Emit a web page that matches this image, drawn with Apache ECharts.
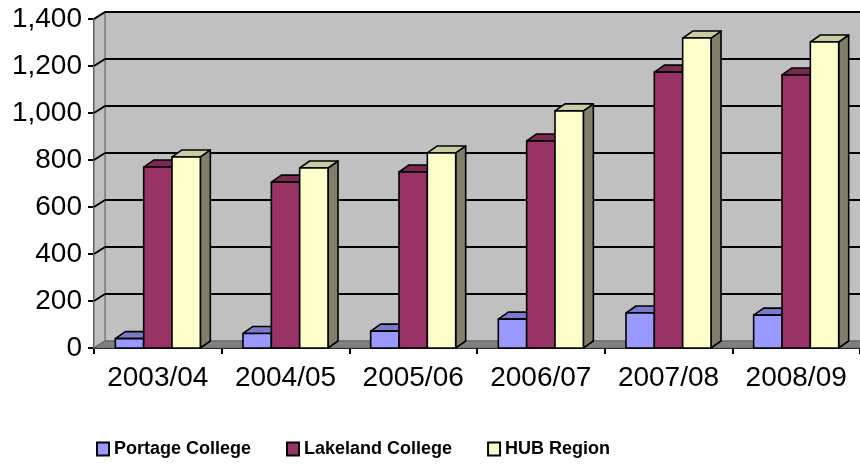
<!DOCTYPE html>
<html>
<head>
<meta charset="utf-8">
<script src="https://cdn.jsdelivr.net/npm/echarts@6/dist/echarts.min.js"></script>
<style>
  html, body { margin: 0; padding: 0; background: #fff; }
  #chart { width: 860px; height: 464px; }
</style>
</head>
<body>
<div id="chart"></div>
<script>
// Excel-style 3D column chart, drawn with custom series

const categories = ['2003/04', '2004/05', '2005/06', '2006/07', '2007/08', '2008/09'];
const portage = [40, 62, 72, 123, 149, 140];
const lakeland = [770, 706, 749, 881, 1174, 1162];
const hub = [813, 766, 830, 1009, 1319, 1302];
const yTicks = [0, 200, 400, 600, 800, 1000, 1200, 1400];

const seriesNames = ['Portage College', 'Lakeland College', 'HUB Region'];
const seriesValues = [portage, lakeland, hub];
const colors = ['#9999ff', '#993366', '#ffffcc'];
const topColors = ['#7a7acc', '#7a2952', '#cccca3'];
const sideColors = ['#4d4d80', '#4d1a33', '#808066'];

const WALL_DX = 11, WALL_DY = 7;   // depth of the walls
const BAR_DX = 10, BAR_DY = 7;     // depth of each bar
const FONT = 'Liberation Sans, Arial, sans-serif';

const chart = echarts.init(document.getElementById('chart'));

// back wall, side wall and floor
function renderWalls(params, api) {
  const cs = params.coordSys;
  const y0 = api.coord([0, 0])[1];
  const yTop = api.coord([0, 1400])[1];
  const xL = cs.x, xR = cs.x + cs.width + 20;
  return {
    type: 'group',
    children: [
      { type: 'rect', shape: { x: xL + WALL_DX, y: yTop - WALL_DY, width: xR - xL, height: y0 - yTop },
        style: { fill: '#c0c0c0', stroke: '#808080', lineWidth: 1.5 } },
      { type: 'polygon', shape: { points: [[xL, yTop], [xL + WALL_DX, yTop - WALL_DY], [xL + WALL_DX, y0 - WALL_DY], [xL, y0]] },
        style: { fill: '#c0c0c0', stroke: '#808080', lineWidth: 1.5 } },
      { type: 'polygon', shape: { points: [[xL, y0], [xL + WALL_DX, y0 - WALL_DY], [xR, y0 - WALL_DY], [xR, y0]] },
        style: { fill: '#808080', stroke: '#606060', lineWidth: 1 } }
    ]
  };
}

// gridlines on the back wall, with the diagonal on the side wall
function renderGrid(params, api) {
  const cs = params.coordSys;
  const v = api.value(1);
  if (v === 0) return null;
  const y = api.coord([0, v])[1];
  const xL = cs.x, xR = cs.x + cs.width + 20;
  const st = { stroke: '#000', lineWidth: 2 };
  return {
    type: 'group',
    children: [
      { type: 'line', shape: { x1: xL, y1: y, x2: xL + WALL_DX, y2: y - WALL_DY }, style: st },
      { type: 'line', shape: { x1: xL + WALL_DX, y1: y - WALL_DY, x2: xR, y2: y - WALL_DY }, style: st }
    ]
  };
}

function barRenderer(idx) {
  return function (params, api) {
    const top = api.coord([api.value(0), api.value(1)]);
    const base = api.coord([api.value(0), 0]);
    const band = api.size([1, 0])[0];
    const bw = band * 0.222;
    const x = top[0] - 1.5 * bw + idx * bw;
    const yt = top[1], yb = base[1];
    const line = { stroke: '#000', lineWidth: 1.6, lineJoin: 'round' };
    return {
      type: 'group',
      children: [
        { type: 'polygon', shape: { points: [[x + bw, yt], [x + bw + BAR_DX, yt - BAR_DY], [x + bw + BAR_DX, yb - BAR_DY], [x + bw, yb]] },
          style: Object.assign({ fill: sideColors[idx] }, line) },
        { type: 'polygon', shape: { points: [[x, yt], [x + BAR_DX, yt - BAR_DY], [x + bw + BAR_DX, yt - BAR_DY], [x + bw, yt]] },
          style: Object.assign({ fill: topColors[idx] }, line) },
        { type: 'rect', shape: { x: x, y: yt, width: bw, height: yb - yt },
          style: Object.assign({ fill: colors[idx] }, line) }
      ]
    };
  };
}

const series = [
  { type: 'custom', name: 'walls', z: 1, silent: true, renderItem: renderWalls, data: [[0, 0]] },
  { type: 'custom', name: 'grid', z: 2, silent: true, renderItem: renderGrid, data: yTicks.map(v => [0, v]) }
];
seriesNames.forEach((name, i) => {
  series.push({
    type: 'custom',
    name: name,
    z: 3 + i,
    renderItem: barRenderer(i),
    itemStyle: { color: colors[i], borderColor: '#000', borderWidth: 2 },
    encode: { x: 0, y: 1 },
    data: categories.map((c, j) => [j, seriesValues[i][j]])
  });
});

chart.setOption({
  animation: false,
  backgroundColor: '#fff',
  grid: { left: 94, right: 0, top: 19, bottom: 116, containLabel: false },
  legend: {
    data: seriesNames,
    left: 96,
    top: 440,
    padding: 0,
    icon: 'rect',
    itemWidth: 12,
    itemHeight: 13,
    itemGap: 35,
    itemStyle: { borderColor: '#000', borderWidth: 2 },
    textStyle: { fontFamily: FONT, fontWeight: 'bold', fontSize: 18, color: '#000' }
  },
  xAxis: {
    type: 'category',
    data: categories,
    boundaryGap: true,
    axisLine: { lineStyle: { color: '#000', width: 2 } },
    axisTick: { show: true, length: 6, interval: 0, lineStyle: { color: '#000', width: 2 } },
    axisLabel: { fontFamily: FONT, fontSize: 28, color: '#000', margin: 16, interval: 0 },
    splitLine: { show: false }
  },
  yAxis: {
    type: 'value',
    min: 0,
    max: 1400,
    interval: 200,
    axisLine: { show: true, lineStyle: { color: '#000', width: 2 } },
    axisTick: { show: true, length: 6, lineStyle: { color: '#000', width: 2 } },
    axisLabel: { fontFamily: FONT, fontSize: 28, color: '#000', margin: 12,
      formatter: v => v.toLocaleString('en-US') },
    splitLine: { show: false }
  },
  series: series
});
</script>
</body>
</html>
